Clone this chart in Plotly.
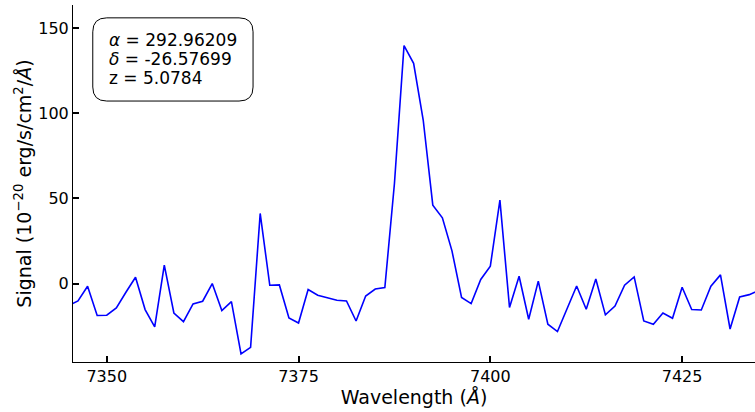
import plotly.graph_objects as go

wavelength = [7345.0, 7346.25, 7347.5, 7348.75, 7350.0, 7351.25, 7352.5, 7353.75, 7355.0, 7356.25,
              7357.5, 7358.75, 7360.0, 7361.25, 7362.5, 7363.75, 7365.0, 7366.25, 7367.5, 7368.75,
              7370.0, 7371.25, 7372.5, 7373.75, 7375.0, 7376.25, 7377.5, 7378.75, 7380.0, 7381.25,
              7382.5, 7383.75, 7385.0, 7386.25, 7387.5, 7388.75, 7390.0, 7391.25, 7392.5, 7393.75,
              7395.0, 7396.25, 7397.5, 7398.75, 7400.0, 7401.25, 7402.5, 7403.75, 7405.0, 7406.25,
              7407.5, 7408.75, 7410.0, 7411.25, 7412.5, 7413.75, 7415.0, 7416.25, 7417.5, 7418.75,
              7420.0, 7421.25, 7422.5, 7423.75, 7425.0, 7426.25, 7427.5, 7428.75, 7430.0, 7431.25,
              7432.5, 7433.75, 7435.0]
signal = [-13.0, -10.2, -1.6, -18.8, -18.6, -14.3, -5.1, 3.7, -15.3, -25.5,
          10.8, -17.3, -22.4, -12.0, -10.4, 0.0, -15.9, -10.6, -41.4, -37.5,
          41.2, -1.0, -0.8, -20.2, -23.2, -3.5, -6.9, -8.2, -9.8, -10.2,
          -22.0, -7.3, -3.2, -2.4, 58.8, 139.8, 129.4, 96.1, 46.1, 38.6,
          19.2, -8.2, -11.8, 2.4, 10.2, 49.0, -14.1, 4.3, -21.0, 1.4,
          -23.9, -28.2, -14.3, -1.4, -15.1, 2.7, -18.4, -13.2, -1.0, 3.9,
          -22.0, -23.9, -17.3, -20.4, -2.2, -15.3, -15.5, -1.6, 5.1, -26.7,
          -7.9, -6.5, -4.0]
x_ticks = [7350, 7375, 7400, 7425]
y_ticks = [0, 50, 100, 150]
info_lines = ["<i>α</i> = 292.96209", "<i>δ</i> = -26.57699", "z = 5.0784"]

FONT = "DejaVu Sans"

fig = go.Figure()
fig.add_trace(go.Scatter(x=wavelength, y=signal, mode="lines",
                         line=dict(color="#0000ff", width=1.6), showlegend=False))

# rounded box (paper coords)
x0, x1, y0, y1 = 0.029, 0.264, 0.731, 0.964
rx, ry = 14 / 682, 14 / 357
path = (f"M {x0+rx},{y1} L {x1-rx},{y1} Q {x1},{y1} {x1},{y1-ry} "
        f"L {x1},{y0+ry} Q {x1},{y0} {x1-rx},{y0} L {x0+rx},{y0} "
        f"Q {x0},{y0} {x0},{y0+ry} L {x0},{y1-ry} Q {x0},{y1} {x0+rx},{y1} Z")
fig.add_shape(type="path", path=path, xref="paper", yref="paper",
              line=dict(color="black", width=1), fillcolor="white", layer="above")
line_y = [0.902, 0.849, 0.796]
for txt, yy in zip(info_lines, line_y):
    fig.add_annotation(x=0.05, y=yy, xref="paper", yref="paper", xanchor="left", yanchor="middle",
                       align="left", showarrow=False, text=txt,
                       font=dict(family=FONT, size=17, color="black"))

fig.update_layout(
    width=755, height=412,
    margin=dict(l=73, r=0, t=5, b=50),
    plot_bgcolor="white", paper_bgcolor="white",
    font=dict(family=FONT, size=16, color="black"),
    xaxis=dict(range=[7345.6, 7434.5], tickvals=x_ticks, ticks="inside", ticklen=6, tickwidth=2,
               tickcolor="black", showline=True, linecolor="black", linewidth=1, showgrid=False,
               zeroline=False, mirror=False, title=dict(text="Wavelength (<i>Å</i>)", standoff=3),
               tickfont=dict(size=16)),
    yaxis=dict(range=[-46.1, 163.7], tickvals=y_ticks, ticks="inside", ticklen=6, tickwidth=2,
               tickcolor="black", showline=True, linecolor="black", linewidth=1, showgrid=False,
               zeroline=False, mirror=False,
               title=dict(text="Signal (10<sup>−20</sup> erg/s/cm<sup>2</sup>/<i>Å</i>)", standoff=1),
               tickfont=dict(size=16)),
)
fig.write_html("out.html")
